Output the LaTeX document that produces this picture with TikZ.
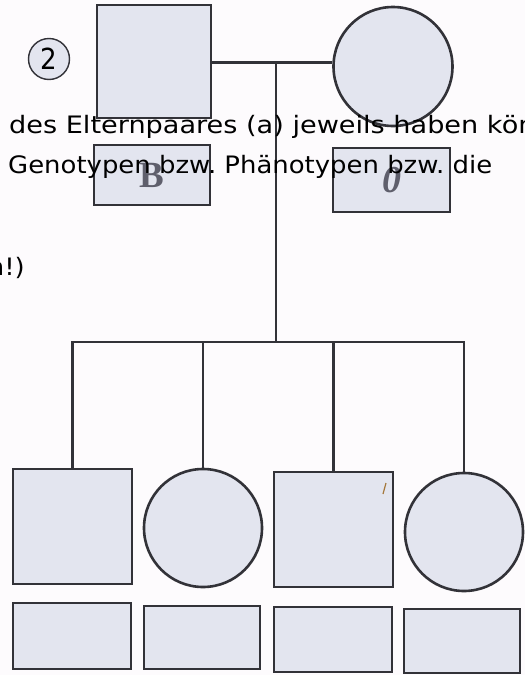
\documentclass[tikz,border=0pt]{standalone}
\usepackage{fontspec}
\usepackage{graphicx}
\usepackage{tikz}
\setmainfont{DejaVu Sans}
\newfontfamily\stampfont{Liberation Serif}
\newfontfamily\numfont{DejaVu Sans Condensed}
\definecolor{paper}{RGB}{253,251,253}
\definecolor{shapefill}{RGB}{227,229,239}
\definecolor{pencil}{RGB}{50,50,56}
\definecolor{stamp}{RGB}{95,95,108}
\definecolor{speck}{RGB}{165,120,60}
\pgfdeclarelayer{bglayer}
\pgfdeclarelayer{edgelayer}
\pgfdeclarelayer{nodelayer}
\pgfsetlayers{bglayer,edgelayer,nodelayer,main}
\tikzstyle{male}=[rectangle,fill=shapefill,draw=pencil,line width=2.6pt,inner sep=0pt]
\tikzstyle{female}=[circle,fill=shapefill,draw=pencil,line width=2.6pt,inner sep=0pt,minimum size=118pt]
\tikzstyle{tag}=[rectangle,fill=shapefill,draw=pencil,line width=2.6pt,inner sep=0pt]
\tikzstyle{kin}=[draw=pencil,line width=2.6pt]
\tikzstyle{words}=[anchor=base west,inner sep=0pt,font=\fontsize{24}{28}\selectfont\frenchspacing]
\newcommand{\wide}[2][1.08]{\scalebox{#1}[1]{#2}}

\begin{document}
\begin{tikzpicture}[x=1pt,y=-1pt]
        \begin{pgfonlayer}{bglayer}
            \fill [paper] (0,0) rectangle (525,675);
        \end{pgfonlayer}
        \useasboundingbox (0,0) rectangle (525,675);

        \begin{pgfonlayer}{nodelayer}
            \node [circle,fill=shapefill,draw=pencil,line width=1.4pt,minimum size=41pt,inner sep=0pt,font=\numfont\fontsize{29}{29}\selectfont] (nr) at (49, 59) {2};

            \node [style = male, minimum width=114pt, minimum height=113pt] (father) at (154, 61.5) {};
            \node [style = female, minimum size=119pt] (mother) at (393, 66.5) {};

            \node [style = tag, minimum width=116pt, minimum height=60pt, text=stamp, font=\stampfont\bfseries\fontsize{37}{37}\selectfont] (fb) at (152, 175) {B};
            \node [style = tag, minimum width=117pt, minimum height=64pt, text=stamp, font=\stampfont\bfseries\itshape\fontsize{38}{38}\selectfont] (mb) at (391.5, 180) {0};

            \node [style = male, minimum width=119pt, minimum height=115pt] (c1) at (72.5, 526.5) {};
            \node [style = female] (c2) at (203, 528) {};
            \node [style = male, minimum width=119pt, minimum height=115pt] (c3) at (333.5, 529.5) {};
            \node [style = female] (c4) at (464, 532) {};

            \node [style = tag, minimum width=118pt, minimum height=66pt] (b1) at (72, 636) {};
            \node [style = tag, minimum width=116pt, minimum height=63pt] (b2) at (202, 637.5) {};
            \node [style = tag, minimum width=118pt, minimum height=65pt] (b3) at (333, 639.5) {};
            \node [style = tag, minimum width=116pt, minimum height=64pt] (b4) at (462, 641) {};

            \draw [speck, line width=1.2pt] (386, 483) to (383, 494);
        \end{pgfonlayer}

        \begin{pgfonlayer}{edgelayer}
            \coordinate (mate) at (276, 62.5);
            \coordinate (sib) at (276, 342);

            \draw [style = kin] (father.east |- mate) to (mother.west |- mate);
            \draw [style = kin] (mate) to (sib);

            \draw [style = kin] (c1.north) |- (sib) -| (c4.north);
            \draw [style = kin] (c2.north) to (c2.north |- sib);
            \draw [style = kin] (c3.north) to (c3.north |- sib);
        \end{pgfonlayer}

        \node [style = words] (row1) at (9, 133) {\wide[1.13]{des Elternpaares (a) jeweils haben können}};
        \node [style = words] (row2) at (8, 173) {\wide{Genotypen bzw. Phänotypen bzw. die}};
        \node [style = words, anchor=base east] (row3) at (25, 275) {\wide{n!)}};
\end{tikzpicture}
\end{document}
